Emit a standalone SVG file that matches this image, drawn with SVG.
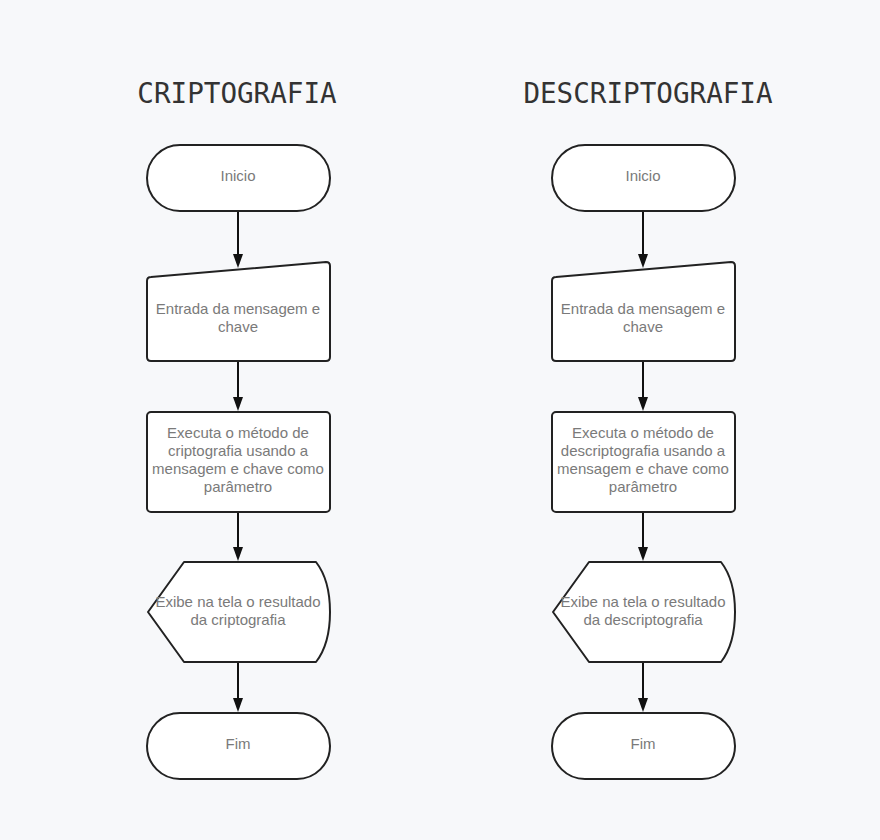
<svg xmlns="http://www.w3.org/2000/svg" width="880" height="840" viewBox="0 0 880 840">
<style>
.s{fill:#fff;stroke:#222;stroke-width:2;stroke-linejoin:round}
.t{font-family:"Liberation Sans",Arial,sans-serif;font-size:15px;fill:#7a7a7a;text-anchor:middle}
.h{font-family:"DejaVu Sans Mono",monospace;font-size:27.6px;fill:#333;text-anchor:middle}
.c{stroke:#111;stroke-width:2;fill:none}
.ah{fill:#111}
</style>
<rect width="880" height="840" fill="#f7f8fa"/>
<text class="h" x="237" y="103">CRIPTOGRAFIA</text>
<text class="h" x="648" y="103">DESCRIPTOGRAFIA</text>
<g id="connectors">
<path class="c" d="M238,211 V256"/><path class="ah" d="M233,254 L243,254 L238,268 Z"/>
<path class="c" d="M238,361 V398"/><path class="ah" d="M233,397 L243,397 L238,411 Z"/>
<path class="c" d="M238,512 V548"/><path class="ah" d="M233,547 L243,547 L238,561 Z"/>
<path class="c" d="M238,662 V698"/><path class="ah" d="M233,698 L243,698 L238,712 Z"/>
<path class="c" d="M643,211 V256"/><path class="ah" d="M638,254 L648,254 L643,268 Z"/>
<path class="c" d="M643,361 V398"/><path class="ah" d="M638,397 L648,397 L643,411 Z"/>
<path class="c" d="M643,512 V548"/><path class="ah" d="M638,547 L648,547 L643,561 Z"/>
<path class="c" d="M643,662 V698"/><path class="ah" d="M638,698 L648,698 L643,712 Z"/>
</g>
<g id="inicio1"><rect class="s" x="147" y="145" width="183" height="66" rx="33"/><text class="t" x="238" y="181">Inicio</text></g>
<g id="entrada1"><path class="s" d="M151,277 L326,262 Q330,262 330,266 L330,357 Q330,361 326,361 L151,361 Q147,361 147,357 L147,281 Q147,277 151,277 Z"/><text class="t" x="238" y="314">Entrada da mensagem e</text><text class="t" x="238" y="332">chave</text></g>
<g id="executa1"><rect class="s" x="147" y="412" width="183" height="100" rx="4"/><text class="t" x="238" y="438">Executa o método de</text><text class="t" x="238" y="456">criptografia usando a</text><text class="t" x="238" y="474">mensagem e chave como</text><text class="t" x="238" y="492">parâmetro</text></g>
<g id="exibe1"><path class="s" d="M184,562 L316,562 Q330,580 330,612 Q330,644 316,662 L184,662 L148,612 Z"/><text class="t" x="238" y="607">Exibe na tela o resultado</text><text class="t" x="238" y="625">da criptografia</text></g>
<g id="fim1"><rect class="s" x="147" y="713" width="183" height="66" rx="33"/><text class="t" x="238" y="749">Fim</text></g>
<g id="inicio2"><rect class="s" x="552" y="145" width="183" height="66" rx="33"/><text class="t" x="643" y="181">Inicio</text></g>
<g id="entrada2"><path class="s" d="M556,277 L731,262 Q735,262 735,266 L735,357 Q735,361 731,361 L556,361 Q552,361 552,357 L552,281 Q552,277 556,277 Z"/><text class="t" x="643" y="314">Entrada da mensagem e</text><text class="t" x="643" y="332">chave</text></g>
<g id="executa2"><rect class="s" x="552" y="412" width="183" height="100" rx="4"/><text class="t" x="643" y="438">Executa o método de</text><text class="t" x="643" y="456">descriptografia usando a</text><text class="t" x="643" y="474">mensagem e chave como</text><text class="t" x="643" y="492">parâmetro</text></g>
<g id="exibe2"><path class="s" d="M589,562 L721,562 Q735,580 735,612 Q735,644 721,662 L589,662 L553,612 Z"/><text class="t" x="643" y="607">Exibe na tela o resultado</text><text class="t" x="643" y="625">da descriptografia</text></g>
<g id="fim2"><rect class="s" x="552" y="713" width="183" height="66" rx="33"/><text class="t" x="643" y="749">Fim</text></g>
</svg>
